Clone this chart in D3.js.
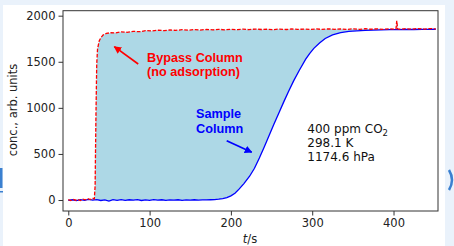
<!DOCTYPE html>
<html>
<head>
<meta charset="utf-8">
<script src="https://cdn.jsdelivr.net/npm/d3@7"></script>
<style>
  body { margin: 0; background: #eaf2fb; }
  svg { display: block; }
  .tick text { font-family: "DejaVu Sans", sans-serif; font-size: 11.5px; fill: #222; }
  .tick line { stroke: #333; }
</style>
</head>
<body>
<svg id="chart" width="454" height="246"></svg>
<script>
// data: [time in s, concentration]
const bypassSeries = [[0,4],[3,-5],[6,8],[9,-2],[12,6],[15,-6],[18,10],[21,2],[24,14],[27,5],[30,18],[32,12],[33,150],[34,900],[35,1480],[36,1640],[38,1725],[40,1760],[43,1792],[47,1808],[52,1815],[58,1812],[65,1824],[72,1820],[80,1830],[88,1826],[95,1838],[102,1834],[110,1842],[118,1838],[125,1845],[132,1840],[140,1848],[148,1843],[155,1850],[162,1844],[170,1851],[178,1846],[185,1852],[192,1847],[200,1853],[208,1848],[215,1854],[222,1849],[230,1855],[238,1850],[245,1853],[252,1849],[260,1855],[268,1850],[275,1856],[282,1851],[290,1855],[298,1850],[305,1856],[312,1851],[320,1857],[328,1852],[335,1856],[342,1851],[350,1857],[358,1852],[365,1858],[372,1853],[380,1857],[388,1852],[395,1858],[400,1854],[403,1856],[404,1945],[405,1858],[408,1853],[415,1859],[422,1854],[430,1860],[438,1855],[445,1860],[452,1856]];
const sampleSeries = [[0,-4],[5,3],[10,-6],[15,4],[20,-3],[25,6],[30,-2],[35,5],[40,-5],[45,2],[50,-12],[55,4],[60,-3],[65,5],[70,-4],[75,3],[80,-2],[85,4],[90,-5],[95,2],[100,-3],[105,4],[110,-2],[115,3],[120,-4],[125,2],[130,-1],[135,3],[140,-3],[145,2],[150,-2],[155,3],[160,-1],[165,2],[170,1],[175,3],[180,5],[185,9],[190,15],[195,27],[200,45],[205,74],[210,118],[216,178],[223,258],[229,345],[235,455],[241,575],[247,700],[253,825],[259,945],[265,1065],[271,1180],[277,1290],[284,1405],[292,1528],[297,1592],[302,1645],[309,1704],[316,1752],[325,1792],[335,1815],[345,1830],[355,1836],[365,1841],[375,1844],[385,1846],[395,1848],[405,1849],[415,1851],[425,1850],[435,1852],[445,1851],[452,1853]];
const xTicks = [0, 100, 200, 300, 400];
const yTicks = [0, 500, 1000, 1500, 2000];
const conditionLines = ["400 ppm CO", "298.1 K", "1174.6 hPa"];

const svg = d3.select("#chart");

// page backdrop: white panel on light blue
svg.append("rect").attr("x", 0).attr("y", 0).attr("width", 454).attr("height", 246).attr("fill", "#eaf2fb");
svg.append("rect").attr("x", 3).attr("y", 5).attr("width", 442).attr("height", 241).attr("fill", "#fff");
// bits of the page behind
svg.append("rect").attr("x", 0).attr("y", 168).attr("width", 2.5).attr("height", 20).attr("fill", "#3b80d0");
svg.append("rect").attr("x", 0).attr("y", 191).attr("width", 3).attr("height", 1.5).attr("fill", "#3b80d0");
svg.append("path").attr("d", "M449,170 Q455,180 449,190").attr("fill", "none").attr("stroke", "#3b80d0").attr("stroke-width", 2.5);

const x = d3.scaleLinear().domain([-6.5, 454.7]).range([63, 438]);
const y = d3.scaleLinear().domain([-119, 2054]).range([211, 10.7]);

// fill between the two curves
const poly = bypassSeries.concat(sampleSeries.slice().reverse());
svg.append("path")
  .attr("d", d3.line().x(d => x(d[0])).y(d => y(d[1]))(poly) + "Z")
  .attr("fill", "#add8e6");

svg.append("path")
  .attr("d", d3.line().x(d => x(d[0])).y(d => y(d[1]))(sampleSeries))
  .attr("fill", "none").attr("stroke", "#0000ff").attr("stroke-width", 1.3);

svg.append("path")
  .attr("d", d3.line().x(d => x(d[0])).y(d => y(d[1]))(bypassSeries))
  .attr("fill", "none").attr("stroke", "#ff0000").attr("stroke-width", 1.3)
  .attr("stroke-dasharray", "3.7,1.6");

// axes
const xAxis = svg.append("g").attr("transform", "translate(0,211)")
  .call(d3.axisBottom(x).tickValues(xTicks).tickFormat(d3.format("d")).tickSize(4.5).tickPadding(3));
const yAxis = svg.append("g").attr("transform", "translate(63,0)")
  .call(d3.axisLeft(y).tickValues(yTicks).tickFormat(d3.format("d")).tickSize(4.5).tickPadding(3));
xAxis.select(".domain").remove();
yAxis.select(".domain").remove();

svg.append("rect").attr("x", 63).attr("y", 10.7).attr("width", 375).attr("height", 200.3)
  .attr("fill", "none").attr("stroke", "#333").attr("stroke-width", 1);

svg.append("text").attr("transform", "translate(17,110) rotate(-90)")
  .attr("text-anchor", "middle").attr("font-family", "DejaVu Sans").attr("font-size", 11.5)
  .attr("fill", "#222").text("conc., arb. units");

const xl = svg.append("text").attr("x", 250).attr("y", 243).attr("text-anchor", "middle")
  .attr("font-family", "DejaVu Sans").attr("font-size", 11.5).attr("fill", "#222");
xl.append("tspan").attr("font-style", "italic").text("t");
xl.append("tspan").text("/s");

// annotations
svg.append("defs").selectAll("marker").data([["red", "#ff0000"], ["blue", "#0000ff"]]).enter()
  .append("marker").attr("id", d => "head-" + d[0]).attr("viewBox", "0 0 10 10")
  .attr("refX", 9).attr("refY", 5).attr("markerWidth", 4.5).attr("markerHeight", 4.5)
  .attr("markerUnits", "strokeWidth").attr("orient", "auto")
  .append("path").attr("d", "M0,0 L10,5 L0,10 Z").attr("fill", d => d[1]);

svg.append("line").attr("x1", x(86)).attr("y1", y(1476)).attr("x2", x(56.6)).attr("y2", y(1664))
  .attr("stroke", "#ff0000").attr("stroke-width", 1.7).attr("marker-end", "url(#head-red)");
svg.append("line").attr("x1", x(194.8)).attr("y1", y(643)).attr("x2", x(225.6)).attr("y2", y(518))
  .attr("stroke", "#0000ff").attr("stroke-width", 1.7).attr("marker-end", "url(#head-blue)");

const bold = (lines, t, v, color) => {
  const txt = svg.append("text").attr("x", x(t)).attr("y", y(v))
    .attr("font-family", "Liberation Sans, Arial, sans-serif").attr("font-weight", "bold")
    .attr("font-size", 12.7).attr("fill", color);
  lines.forEach((l, i) => txt.append("tspan").attr("x", x(t)).attr("dy", i ? 14.5 : 0).text(l));
};
bold(["Bypass Column", "(no adsorption)"], 96.8, 1501, "#ff0000");
bold(["Sample", "Column"], 157.1, 887, "#0000ff");

const cond = svg.append("text").attr("x", x(294)).attr("y", y(732))
  .attr("font-family", "DejaVu Sans").attr("font-size", 12).attr("fill", "#111");
conditionLines.forEach((l, i) => {
  const ts = cond.append("tspan").attr("x", x(294)).attr("dy", i ? 14.1 : 0).text(l);
  if (i === 0) cond.append("tspan").attr("font-size", 8.5).attr("dy", 3).text("2");
  if (i === 1) ts.attr("dy", 14.1 - 3);
});
</script>
</body>
</html>
